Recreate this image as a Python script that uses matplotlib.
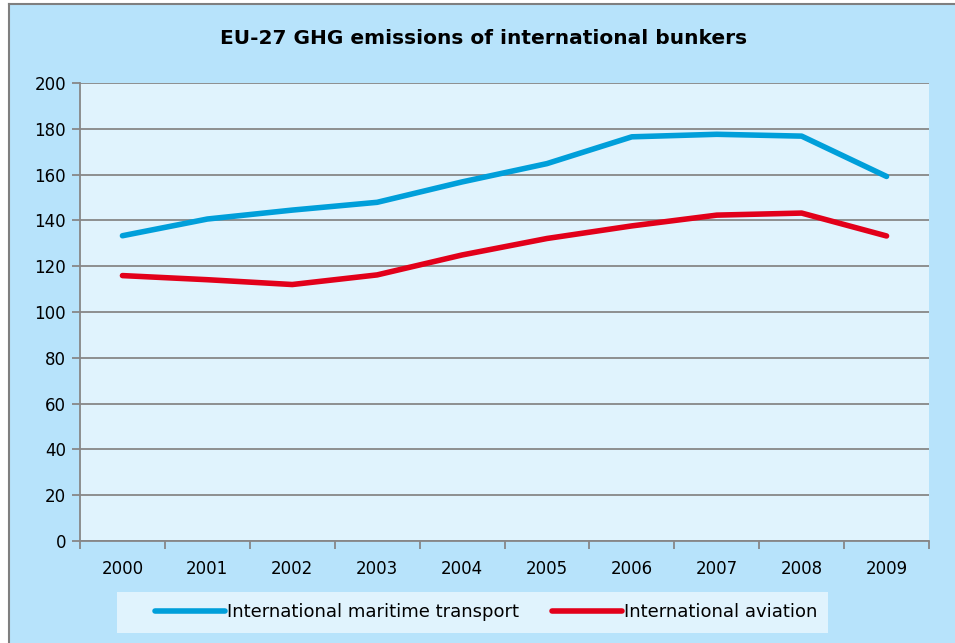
import matplotlib
matplotlib.use("Agg")
import matplotlib.pyplot as plt
from matplotlib.lines import Line2D
import numpy as np

years = ["2000", "2001", "2002", "2003", "2004", "2005", "2006", "2007", "2008", "2009"]
maritime = [133.3, 140.6, 144.5, 147.9, 156.8, 164.8, 176.5, 177.6, 176.8, 159.2]
aviation = [115.9, 114.1, 112.0, 116.2, 124.9, 132.1, 137.6, 142.3, 143.2, 133.2]

BG = "#b7e3fb"
PLOT_BG = "#e0f3fd"
GRID = "#878787"

plt.rcParams["font.family"] = ["DejaVu Sans"]

fig = plt.figure(figsize=(9.55, 6.43), dpi=100, facecolor=BG)
ax = fig.add_axes([80 / 955, 1 - 541 / 643, 849 / 955, 458 / 643])
ax.set_facecolor(PLOT_BG)

x = np.arange(len(years))
ax.plot(x, maritime, color="#009fda", linewidth=4, solid_capstyle="round",
        label="International maritime transport", zorder=3)
ax.plot(x, aviation, color="#e2001a", linewidth=4, solid_capstyle="round",
        label="International aviation", zorder=3)

ax.set_xlim(-0.5, len(years) - 0.5)
ax.set_ylim(0, 200)
ax.set_yticks(range(0, 201, 20))
ax.yaxis.grid(True, color=GRID, linewidth=1.3)
ax.set_axisbelow(True)

ax.set_xticks(x)
ax.set_xticklabels(years)
ax.set_xticks(np.arange(-0.5, len(years), 1), minor=True)
ax.tick_params(axis="x", which="major", length=0, pad=14, labelsize=12)
ax.tick_params(axis="x", which="minor", length=6, color=GRID, width=1.3)
ax.tick_params(axis="y", length=6, color=GRID, width=1.3, labelsize=12, pad=4)

for side in ["top", "right"]:
    ax.spines[side].set_visible(False)
for side in ["left", "bottom"]:
    ax.spines[side].set_color(GRID)
    ax.spines[side].set_linewidth(1.3)

fig.text(484 / 955, 1 - 38 / 643, "EU-27 GHG emissions of international bunkers",
         ha="center", va="center", fontsize=14.5, fontweight="bold")

# legend background box
fig.add_artist(plt.Rectangle((117 / 955, 1 - 633 / 643), 711 / 955, 41 / 643,
                             transform=fig.transFigure, facecolor=PLOT_BG, edgecolor="none"))
leg = fig.legend(loc="center left", bbox_to_anchor=(146 / 955, 1 - 612 / 643), ncol=2,
                 frameon=False, fontsize=13, handlelength=3.9, borderpad=0,
                 handletextpad=0.1, columnspacing=1.8)

# outer border visible on left and top
fig.add_artist(Line2D([8.5 / 955, 8.5 / 955], [0, 1 - 4 / 643], transform=fig.transFigure,
                      color="#7f7f7f", linewidth=1.5))
fig.add_artist(Line2D([8.5 / 955, 1], [1 - 4 / 643, 1 - 4 / 643], transform=fig.transFigure,
                      color="#7f7f7f", linewidth=1.5))
fig.add_artist(plt.Rectangle((0, 0), 8 / 955, 1, transform=fig.transFigure,
                             facecolor="white", edgecolor="none"))
fig.add_artist(plt.Rectangle((0, 1 - 3.5 / 643), 1, 3.5 / 643, transform=fig.transFigure,
                             facecolor="white", edgecolor="none"))

fig.savefig("out.png", dpi=100, facecolor=BG)
